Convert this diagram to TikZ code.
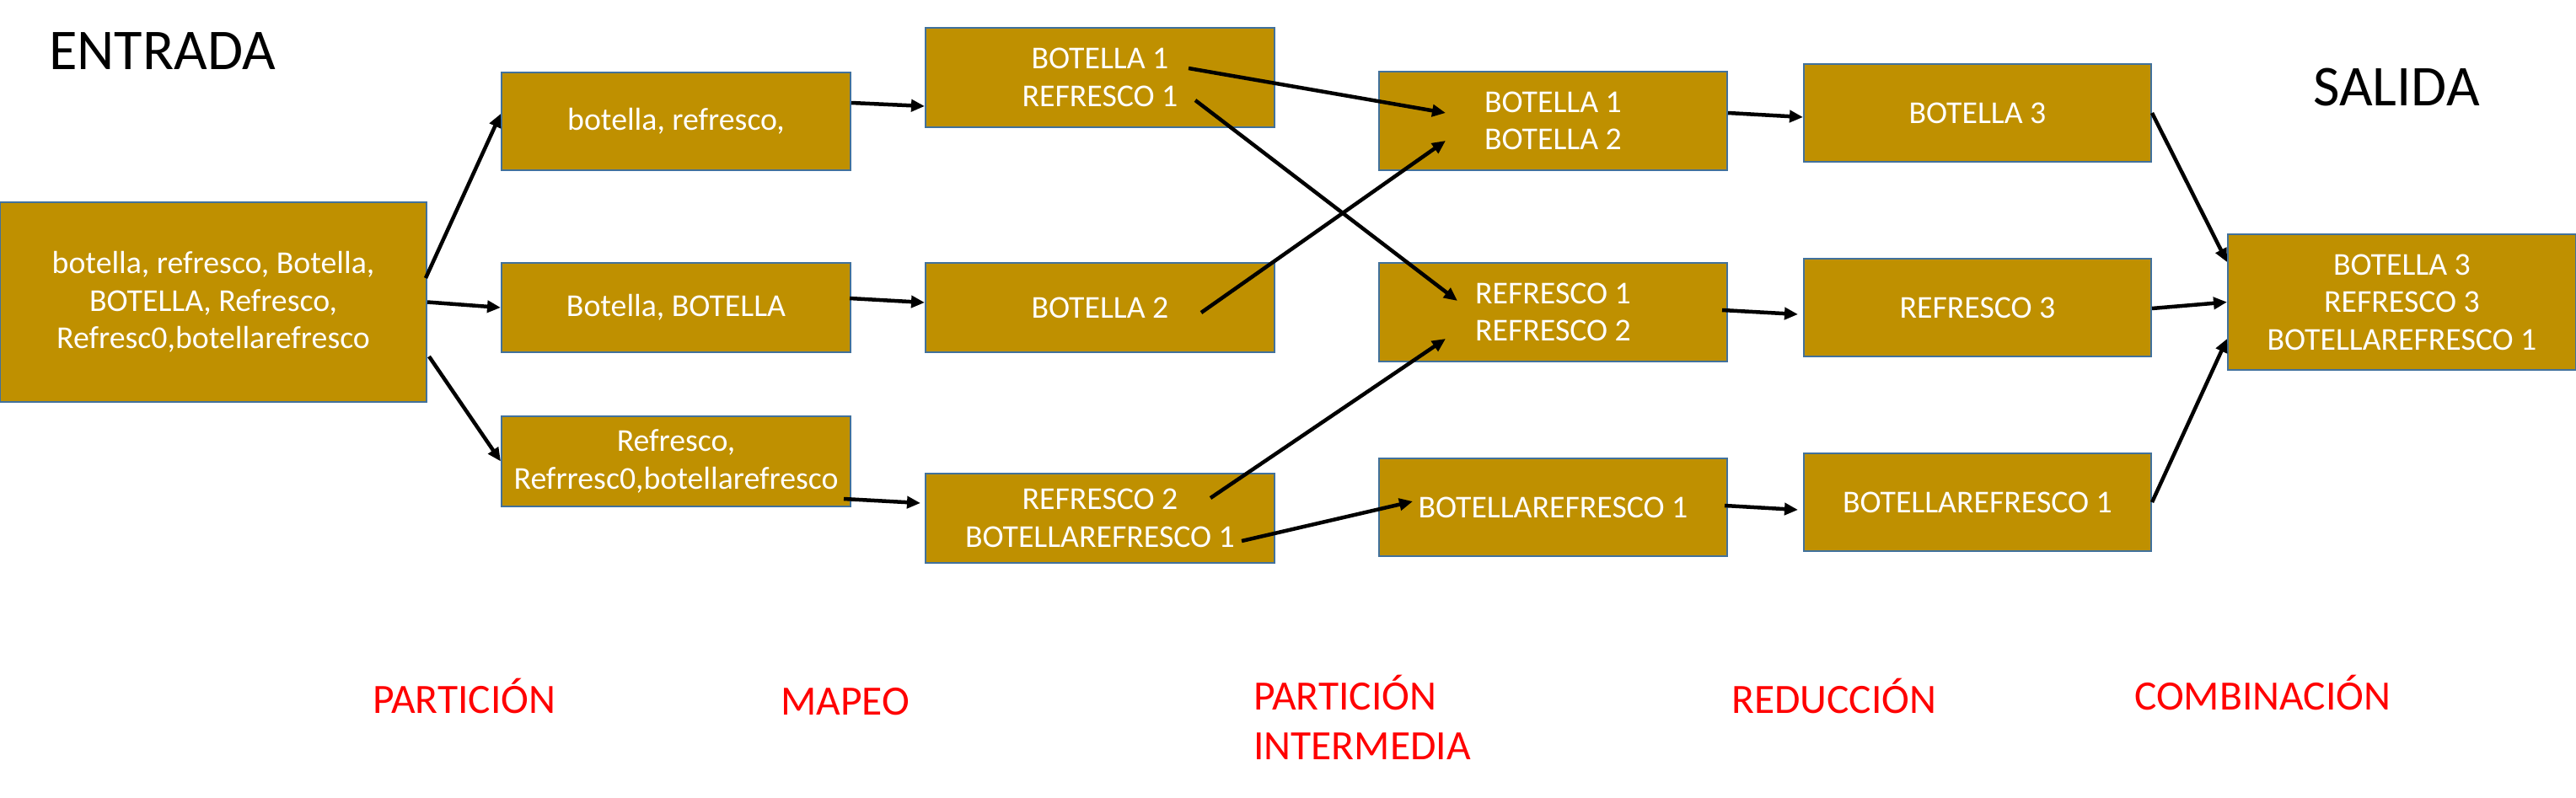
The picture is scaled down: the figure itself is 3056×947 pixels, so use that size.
\documentclass[tikz,border=0pt]{standalone}
\usepackage{fontspec}
\setmainfont{Carlito}
\usetikzlibrary{arrows.meta,calc}
\definecolor{gold}{RGB}{191,144,0}
\definecolor{boxblue}{RGB}{65,113,156}
\definecolor{lblred}{RGB}{255,0,0}
\tikzset{
  box/.style={draw=boxblue, line width=2pt, fill=gold, text=white, align=center,
    inner sep=0pt, font=\fontsize{37.8}{44.5}\selectfont},
  arr/.style={line width=4.5pt, -{Triangle[length=16pt,width=14pt]}},
  title/.style={anchor=base west, inner sep=0pt, font=\fontsize{68.5}{68.5}\selectfont},
  stage/.style={anchor=base west, inner sep=0pt, text=lblred, font=\fontsize{49.5}{59}\selectfont}
}
\begin{document}
\begin{tikzpicture}[x=1pt,y=-1pt]
\useasboundingbox (0,0) rectangle (3056,947);
% boxes
\node[box, minimum width=506pt, minimum height=237pt] (in) at (253,358.5)
  {botella, refresco, Botella,\\BOTELLA, Refresco,\\Refresc0,botellarefresco};
\node[box, minimum width=414pt, minimum height=116pt] (p1) at (802,144) {botella, refresco,};
\node[box, minimum width=414pt, minimum height=106pt] (p2) at (802,365) {Botella, BOTELLA};
\node[box, minimum width=414pt, minimum height=107pt] (p3) at (802,547.5) {Refresco,\\Refrresc0,botellarefresco};
\node[box, minimum width=414pt, minimum height=118pt] (m1) at (1305,92) {BOTELLA 1\\REFRESCO 1};
\node[box, minimum width=414pt, minimum height=106pt] (m2) at (1305,365) {BOTELLA 2};
\node[box, minimum width=414pt, minimum height=106pt] (m3) at (1305,615) {REFRESCO 2\\BOTELLAREFRESCO 1};
\node[box, minimum width=413pt, minimum height=117pt] (i1) at (1842.5,143.5) {BOTELLA 1\\BOTELLA 2};
\node[box, minimum width=413pt, minimum height=117pt] (i2) at (1842.5,370.5) {REFRESCO 1\\REFRESCO 2};
\node[box, minimum width=413pt, minimum height=116pt] (i3) at (1842.5,602) {BOTELLAREFRESCO 1};
\node[box, minimum width=412pt, minimum height=116pt] (r1) at (2346,134) {BOTELLA 3};
\node[box, minimum width=412pt, minimum height=116pt] (r2) at (2346,365) {REFRESCO 3};
\node[box, minimum width=412pt, minimum height=116pt] (r3) at (2346,596) {BOTELLAREFRESCO 1};
\node[box, minimum width=413pt, minimum height=161pt] (f) at (2849.5,358.5) {BOTELLA 3\\REFRESCO 3\\BOTELLAREFRESCO 1};
% titles
\node[title] (entrada) at (58,83) {ENTRADA};
\node[title] (salida) at (2744,125) {SALIDA};
% stage labels
\node[stage] (s1) at (442,846) {PARTICIÓN};
\node[stage] (s2) at (926,848) {MAPEO};
\node[stage] (s3a) at (1487,842.5) {PARTICIÓN};
\node[stage] (s3b) at (1487,901.5) {INTERMEDIA};
\node[stage] (s4) at (2054,846) {REDUCCIÓN};
\node[stage] (s5) at (2532,842.5) {COMBINACIÓN};
% arrows: partition
\draw[arr] ($(in.east)+(-2,-28.5)$) -- ($(p1.west)+(0,-9)$);
\draw[arr] (in.east) -- (p2.west);
\draw[arr] ($(in.east)+(2,64.5)$) -- (p3.west);
% mapping
\draw[arr] ($(p1.east)+(0,-22)$) -- ($(m1.west)+(0,34)$);
\draw[arr] ($(p2.east)+(-2,-11)$) -- ($(m2.west)+(0,-6)$);
\draw[arr] ($(p3.east)+(-9,44.5)$) -- ($(m3.west)+(-5,-18)$);
% shuffle
\draw[arr] ($(m1.center)+(105,-11)$) -- ($(i1.center)+(-127.5,-9.5)$);
\draw[arr] ($(m1.center)+(113,27)$) -- ($(i2.center)+(-113.5,-13.5)$);
\draw[arr] ($(m2.center)+(120,6)$) -- ($(i1.center)+(-127.5,23.5)$);
\draw[arr] ($(m3.center)+(131,-24)$) -- ($(i2.center)+(-127.5,31.5)$);
\draw[arr] ($(m3.center)+(168,27)$) -- ($(i3.center)+(-166.5,-7)$);
% reduce
\draw[arr] ($(i1.east)+(0,-9.5)$) -- ($(r1.west)+(0,5)$);
\draw[arr] ($(i2.east)+(-7,-2.5)$) -- ($(r2.west)+(-6,8)$);
\draw[arr] ($(i3.east)+(-4,-2)$) -- ($(r3.west)+(-6,9)$);
% combine
\draw[arr] (r1.east) -- ($(f.west)+(0,-47.5)$);
\draw[arr] ($(r2.east)+(0,1)$) -- (f.west);
\draw[arr] (r3.east) -- ($(f.west)+(0,43.5)$);
\end{tikzpicture}
\end{document}
